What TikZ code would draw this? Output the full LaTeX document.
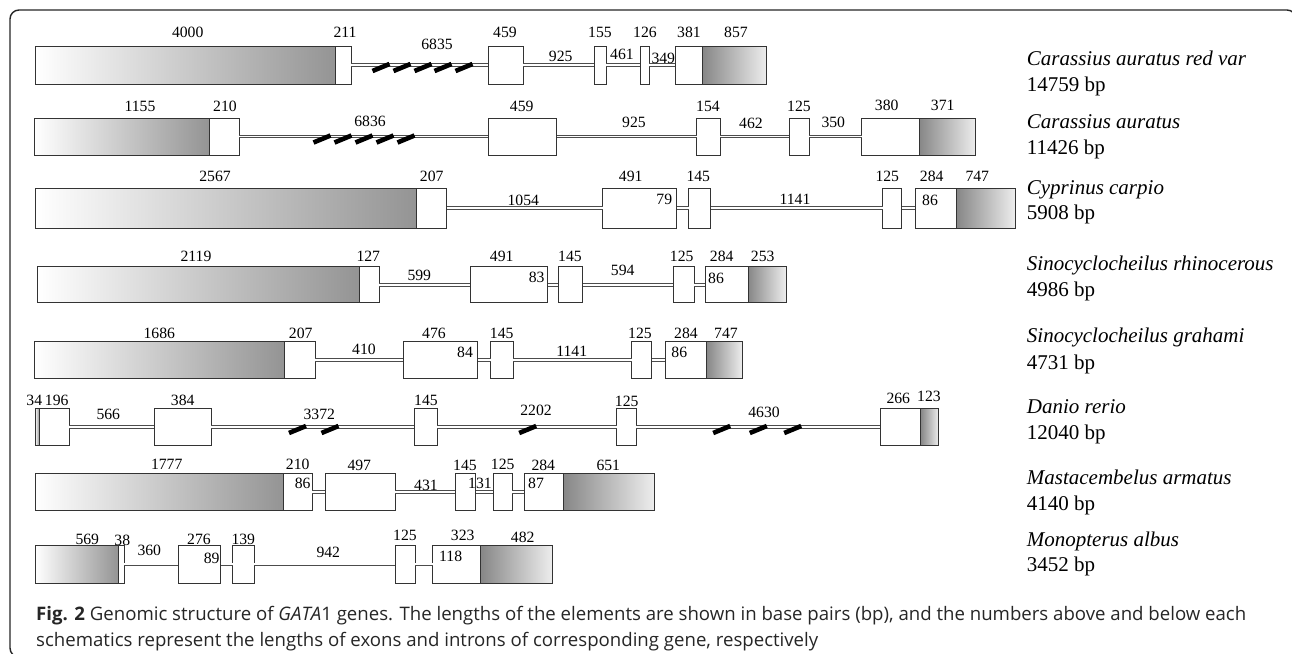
\documentclass[tikz,border=0pt]{standalone}
\usepackage{fontspec}
\setmainfont{Liberation Serif}
\newfontfamily\capfont{Open Sans}
\newcommand\numf{\fontsize{15.7}{16}\selectfont}
\newcommand\spf{\fontsize{21}{22}\selectfont}
\newcommand\capsize{\capfont\fontsize{18}{20}\selectfont}
\newcommand\capone{\textbf{Fig. 2} Genomic structure of \textit{GATA}1 genes. The lengths of the elements are shown in base pairs (bp), and the numbers above and below each}
\newcommand\captwo{schematics represent the lengths of exons and introns of corresponding gene, respectively}
\newsavebox\capboxa
\newlength\capw
\tikzset{
  exon/.style={draw=black!80, fill=white, line width=0.9pt, inner sep=0pt, outer sep=0pt},
  utrfive/.style={exon, left color=white, right color=black!42},
  utrthree/.style={exon, left color=black!47, right color=black!7},
  intron/.style={draw=black!70, double=white, double distance=1.9pt, line width=0.95pt},
  cut/.style={line width=4.6pt, black},
  num/.style={font=\numf, inner sep=0pt, anchor=center},
  spname/.style={font=\spf\itshape, inner sep=0pt, anchor=base west},
  splen/.style={font=\spf, inner sep=0pt, anchor=base west},
  capline/.style={font=\capsize, text=black!85, inner sep=0pt, anchor=base west}
}
% name, x1, x2, cy, h, style
\newcommand\gbox[6]{\node[#6, minimum width={#3-#2}, minimum height=#5] (#1) at ({(#2+#3)/2},#4) {};}
\newcommand\lab[4]{\node[num] (#1) at (#2,#3) {#4};}
\newcommand\cutmark[3]{\draw[cut] (#2-8.5,#3+3.5) coordinate (#1a) -- (#2+8.5,#3-3.5) coordinate (#1b);}
\begin{document}
\sbox\capboxa{\capsize\capone}%
\setlength\capw{\wd\capboxa}%
\pgfmathsetmacro\capscale{1210/\capw}%
\begin{tikzpicture}[x=1pt,y=-1pt]
\useasboundingbox (0,0) rectangle (1292,653);
\fill[white] (0,0) rectangle (1292,653);
\draw[line width=1.4pt, rounded corners=9pt, black!85] (10,10) rectangle (1296,657);

% ---------- Row 1: Carassius auratus red var
\def\cy{65}\def\h{38}
\gbox{u1a}{35.7}{335.7}{\cy}{\h}{utrfive}
\gbox{e1a}{335.7}{351}{\cy}{\h}{exon}
\gbox{e1b}{488.3}{523.3}{\cy}{\h}{exon}
\gbox{e1c}{594}{606}{\cy}{\h}{exon}
\gbox{e1d}{640}{649.3}{\cy}{\h}{exon}
\gbox{e1e}{675.3}{702.7}{\cy}{\h}{exon}
\gbox{u1b}{702.7}{766.7}{\cy}{\h}{utrthree}
\draw[intron] (e1a.east) -- (e1b.west);
\draw[intron] (e1b.east) -- (e1c.west);
\draw[intron] (e1c.east) -- (e1d.west);
\draw[intron] (e1d.east) -- (e1e.west);
\cutmark{s1a}{381}{67.5}\cutmark{s1b}{402}{67.5}\cutmark{s1c}{423}{67.5}\cutmark{s1d}{443}{67.5}\cutmark{s1e}{464}{67.5}
\lab{t1a}{187.7}{32.5}{4000}
\lab{t1b}{345}{32.5}{211}
\lab{t1c}{437}{44}{6835}
\lab{t1d}{505}{32.5}{459}
\lab{t1e}{560.7}{56.7}{925}
\lab{t1f}{600}{32.5}{155}
\lab{t1g}{622}{54}{461}
\lab{t1h}{645}{32.5}{126}
\lab{t1i}{663.3}{58}{349}
\lab{t1j}{689}{32.5}{381}
\lab{t1k}{736}{32.5}{857}

% ---------- Row 2: Carassius auratus
\def\cy{136.5}\def\h{37}
\gbox{u2a}{34.3}{209.3}{\cy}{\h}{utrfive}
\gbox{e2a}{209.3}{239}{\cy}{\h}{exon}
\gbox{e2b}{488.3}{556.7}{\cy}{\h}{exon}
\gbox{e2c}{696.7}{720}{\cy}{\h}{exon}
\gbox{e2d}{789.3}{809.3}{\cy}{\h}{exon}
\gbox{e2e}{861.7}{919.3}{\cy}{\h}{exon}
\gbox{u2b}{919.3}{975.7}{\cy}{\h}{utrthree}
\draw[intron] (e2a.east) -- (e2b.west);
\draw[intron] (e2b.east) -- (e2c.west);
\draw[intron] (e2c.east) -- (e2d.west);
\draw[intron] (e2d.east) -- (e2e.west);
\cutmark{s2a}{322}{139}\cutmark{s2b}{343}{139}\cutmark{s2c}{364}{139}\cutmark{s2d}{385}{139}\cutmark{s2e}{406}{139}
\lab{t2a}{140}{106}{1155}
\lab{t2b}{225}{106}{210}
\lab{t2c}{370}{121.7}{6836}
\lab{t2d}{521.7}{106}{459}
\lab{t2e}{634}{122.7}{925}
\lab{t2f}{708}{106}{154}
\lab{t2g}{751}{123}{462}
\lab{t2h}{799}{106}{125}
\lab{t2i}{833.3}{122}{350}
\lab{t2j}{886.7}{105.5}{380}
\lab{t2k}{942.7}{105.5}{371}

% ---------- Row 3: Cyprinus carpio
\def\cy{208.3}\def\h{39.5}
\gbox{u3a}{35.7}{416.7}{\cy}{\h}{utrfive}
\gbox{e3a}{416.7}{446.5}{\cy}{\h}{exon}
\gbox{e3b}{602.7}{676.7}{\cy}{\h}{exon}
\gbox{e3c}{688.7}{710.7}{\cy}{\h}{exon}
\gbox{e3d}{882.7}{901.7}{\cy}{\h}{exon}
\gbox{e3e}{915}{956.7}{\cy}{\h}{exon}
\gbox{u3b}{956.7}{1015}{\cy}{\h}{utrthree}
\draw[intron] (e3a.east) -- (e3b.west);
\draw[intron] (e3b.east) -- (e3c.west);
\draw[intron] (e3c.east) -- (e3d.west);
\draw[intron] (e3d.east) -- (e3e.west);
\lab{t3a}{215}{176}{2567}
\lab{t3b}{431.7}{176}{207}
\lab{t3c}{523.3}{200}{1054}
\lab{t3d}{630.7}{176}{491}
\lab{t3e}{664.3}{199.3}{79}
\lab{t3f}{698.3}{176}{145}
\lab{t3g}{795}{199}{1141}
\lab{t3h}{887.3}{176.5}{125}
\lab{t3i}{931.7}{176.5}{284}
\lab{t3j}{977.3}{176.5}{747}
\lab{t3k}{930}{200}{86}

% ---------- Row 4: Sinocyclocheilus rhinocerous
\def\cy{284.7}\def\h{36}
\gbox{u4a}{37.7}{359.3}{\cy}{\h}{utrfive}
\gbox{e4a}{359.3}{379}{\cy}{\h}{exon}
\gbox{e4b}{470}{547.7}{\cy}{\h}{exon}
\gbox{e4c}{558.3}{582.7}{\cy}{\h}{exon}
\gbox{e4d}{673.3}{694.3}{\cy}{\h}{exon}
\gbox{e4e}{705}{748.3}{\cy}{\h}{exon}
\gbox{u4b}{748.3}{786}{\cy}{\h}{utrthree}
\draw[intron] (e4a.east) -- (e4b.west);
\draw[intron] (e4b.east) -- (e4c.west);
\draw[intron] (e4c.east) -- (e4d.west);
\draw[intron] (e4d.east) -- (e4e.west);
\lab{t4a}{196}{256.7}{2119}
\lab{t4b}{368.3}{256.7}{127}
\lab{t4c}{419.3}{275}{599}
\lab{t4d}{501.7}{256.7}{491}
\lab{t4e}{536.7}{277.3}{83}
\lab{t4f}{570}{256.7}{145}
\lab{t4g}{622.7}{270}{594}
\lab{t4h}{681.7}{256.7}{125}
\lab{t4i}{721.7}{256.7}{284}
\lab{t4j}{762.7}{256.7}{253}
\lab{t4k}{716}{278.3}{86}

% ---------- Row 5: Sinocyclocheilus grahami
\def\cy{360.2}\def\h{37}
\gbox{u5a}{34.3}{284}{\cy}{\h}{utrfive}
\gbox{e5a}{284}{315}{\cy}{\h}{exon}
\gbox{e5b}{403.3}{477.7}{\cy}{\h}{exon}
\gbox{e5c}{490.7}{513.3}{\cy}{\h}{exon}
\gbox{e5d}{631.7}{651.7}{\cy}{\h}{exon}
\gbox{e5e}{665.3}{706.7}{\cy}{\h}{exon}
\gbox{u5b}{706.7}{742.3}{\cy}{\h}{utrthree}
\draw[intron] (e5a.east) -- (e5b.west);
\draw[intron] (e5b.east) -- (e5c.west);
\draw[intron] (e5c.east) -- (e5d.west);
\draw[intron] (e5d.east) -- (e5e.west);
\lab{t5a}{159.3}{333.3}{1686}
\lab{t5b}{300.7}{333.3}{207}
\lab{t5c}{364}{349.3}{410}
\lab{t5d}{434}{333.3}{476}
\lab{t5e}{465}{352.7}{84}
\lab{t5f}{501.7}{333.3}{145}
\lab{t5g}{571.7}{351.7}{1141}
\lab{t5h}{640}{333.3}{125}
\lab{t5i}{686}{333.3}{284}
\lab{t5j}{726}{333.3}{747}
\lab{t5k}{679.3}{352.3}{86}

% ---------- Row 6: Danio rerio
\def\cy{426.7}\def\h{36.7}
\gbox{u6a}{35}{39.3}{\cy}{\h}{utrfive}
\gbox{e6a}{39.3}{69.3}{\cy}{\h}{exon}
\gbox{e6b}{154}{211}{\cy}{\h}{exon}
\gbox{e6c}{414.3}{437.3}{\cy}{\h}{exon}
\gbox{e6d}{616.7}{636}{\cy}{\h}{exon}
\gbox{e6e}{880}{920.7}{\cy}{\h}{exon}
\gbox{u6b}{920.7}{938.7}{\cy}{\h}{utrthree}
\draw[intron] (e6a.east) -- (e6b.west);
\draw[intron] (e6b.east) -- (e6c.west);
\draw[intron] (e6c.east) -- (e6d.west);
\draw[intron] (e6d.east) -- (e6e.west);
\cutmark{s6a}{297.5}{429.5}\cutmark{s6b}{330}{429.5}
\cutmark{s6c}{527.7}{429.5}
\cutmark{s6d}{721.7}{429.5}\cutmark{s6e}{758.3}{429.5}\cutmark{s6f}{792.7}{429.5}
\lab{t6a}{34.3}{400.7}{34}
\lab{t6b}{56.7}{400.7}{196}
\lab{t6c}{108.3}{414}{566}
\lab{t6d}{182.7}{400.7}{384}
\lab{t6e}{319.3}{414.3}{3372}
\lab{t6f}{426}{400.7}{145}
\lab{t6g}{536}{410.7}{2202}
\lab{t6h}{626.7}{401.7}{125}
\lab{t6i}{764}{412.7}{4630}
\lab{t6j}{898.3}{398.3}{266}
\lab{t6k}{929}{396.7}{123}

% ---------- Row 7: Mastacembelus armatus
\def\cy{491.7}\def\h{36.7}
\gbox{u7a}{35}{283.3}{\cy}{\h}{utrfive}
\gbox{e7a}{283.3}{312.3}{\cy}{\h}{exon}
\gbox{e7b}{325}{395}{\cy}{\h}{exon}
\gbox{e7c}{455}{475.7}{\cy}{\h}{exon}
\gbox{e7d}{493.3}{512.3}{\cy}{\h}{exon}
\gbox{e7e}{524}{563.3}{\cy}{\h}{exon}
\gbox{u7b}{563.3}{654.3}{\cy}{\h}{utrthree}
\draw[intron] (e7a.east) -- (e7b.west);
\draw[intron] (e7b.east) -- (e7c.west);
\draw[intron] (e7c.east) -- (e7d.west);
\draw[intron] (e7d.east) -- (e7e.west);
\lab{t7a}{166.7}{464}{1777}
\lab{t7b}{297.7}{464}{210}
\lab{t7c}{302.7}{483.3}{86}
\lab{t7d}{359.3}{465}{497}
\lab{t7e}{426}{485}{431}
\lab{t7f}{465}{465}{145}
\lab{t7g}{480}{483.3}{131}
\lab{t7h}{502.7}{464}{125}
\lab{t7i}{543.3}{465}{284}
\lab{t7j}{536}{483.3}{87}
\lab{t7k}{608.3}{465}{651}

% ---------- Row 8: Monopterus albus
\def\cy{564.4}\def\h{37.3}
\gbox{u8a}{35}{118.3}{\cy}{\h}{utrfive}
\gbox{e8a}{118.3}{124}{\cy}{\h}{exon}
\gbox{e8b}{178.3}{220.7}{\cy}{\h}{exon}
\gbox{e8c}{232.7}{254}{\cy}{\h}{exon}
\gbox{e8d}{395.3}{415}{\cy}{\h}{exon}
\gbox{e8e}{432.7}{480.7}{\cy}{\h}{exon}
\gbox{u8b}{480.7}{552.3}{\cy}{\h}{utrthree}
\draw[intron] (e8a.east) -- (e8b.west);
\draw[intron] (e8b.east) -- (e8c.west);
\draw[intron] (e8c.east) -- (e8d.west);
\draw[intron] (e8d.east) -- (e8e.west);
\lab{t8a}{87.3}{539}{569}
\lab{t8b}{122.3}{540}{38}
\lab{t8c}{149.3}{550}{360}
\lab{t8d}{199}{539}{276}
\lab{t8e}{211.7}{558.3}{89}
\lab{t8f}{243.3}{539}{139}
\lab{t8g}{328.3}{552.7}{942}
\lab{t8h}{405}{535}{125}
\lab{t8i}{462.7}{535}{323}
\lab{t8j}{522.7}{537.3}{482}
\lab{t8k}{450.7}{556.7}{118}

% ---------- Species labels
\node[spname] (n1) at (1026.7,65.7) {Carassius auratus red var};
\node[splen]  (b1) at (1026.7,91.7) {14759 bp};
\node[spname] (n2) at (1026.7,128) {Carassius auratus};
\node[splen]  (b2) at (1026.7,154) {11426 bp};
\node[spname] (n3) at (1026.7,194.3) {Cyprinus carpio};
\node[splen]  (b3) at (1026.7,219) {5908 bp};
\node[spname] (n4) at (1026.7,270.7) {Sinocyclocheilus rhinocerous};
\node[splen]  (b4) at (1026.7,296.7) {4986 bp};
\node[spname] (n5) at (1026.7,342.7) {Sinocyclocheilus grahami};
\node[splen]  (b5) at (1026.7,369) {4731 bp};
\node[spname] (n6) at (1026.7,413.3) {Danio rerio};
\node[splen]  (b6) at (1026.7,439) {12040 bp};
\node[spname] (n7) at (1026.7,484.3) {Mastacembelus armatus};
\node[splen]  (b7) at (1026.7,510.7) {4140 bp};
\node[spname] (n8) at (1026.7,546) {Monopterus albus};
\node[splen]  (b8) at (1026.7,571.7) {3452 bp};

% ---------- Caption
\node[capline, scale=\capscale] (c1) at (36,620) {\capone};
\node[capline, scale=\capscale] (c2) at (36,646) {\captwo};
\end{tikzpicture}
\end{document}
